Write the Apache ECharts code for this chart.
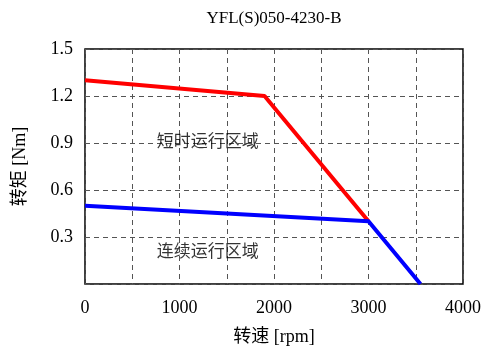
<!DOCTYPE html>
<html>
<head>
<meta charset="utf-8">
<script src="https://cdn.jsdelivr.net/npm/echarts@6/dist/echarts.min.js"></script>
<style>
  html, body { margin: 0; padding: 0; background: #fff; }
  #char { width: 500px; height: 353px; }
</style>
</head>
<body>
<div id="char"></div>
<script>
// 数据
const shortTerm = [[0, 1.3], [1900, 1.2], [3000, 0.4]]
const continuous = [[0, 0.5], [3000, 0.4], [3550, 0]]
const zoneLabels = [
  { name: '短时运行区域', x: 1300, y: 0.9 },
  { name: '连续运行区域', x: 1300, y: 0.2 }
]

const font = '"Liberation Serif", "Noto Sans CJK SC", serif'
let myChart = echarts.init(document.getElementById('char'))
let option = {
  animation: false,
  title: {
    text: 'YFL(S)050-4230-B',
    left: 269,
    top: 5,
    textAlign: 'center',
    textStyle: { fontFamily: font, fontSize: 17, fontWeight: 'normal', color: '#000' }
  },
  grid: {
    left: 85,
    right: 37,
    top: 49,
    bottom: 69,
    show: true,
    borderColor: '#000',
    borderWidth: 1.5
  },
  xAxis: {
    type: 'value',
    min: 0,
    max: 4000,
    interval: 500,
    name: '转速 [rpm]',
    nameLocation: 'middle',
    nameGap: 44,
    nameTextStyle: { fontFamily: font, fontSize: 18, color: '#000' },
    axisLine: { show: false },
    axisTick: { show: false },
    axisLabel: {
      fontFamily: font,
      fontSize: 18,
      color: '#000',
      margin: 15,
      formatter: (v) => (v % 1000 === 0 ? String(v) : '')
    },
    splitLine: { lineStyle: { type: [5, 4], color: '#555', width: 1 } }
  },
  yAxis: {
    type: 'value',
    min: 0,
    max: 1.5,
    interval: 0.3,
    name: '转矩 [Nm]',
    nameLocation: 'middle',
    nameGap: 56,
    nameTextStyle: { fontFamily: font, fontSize: 18, color: '#000' },
    axisLine: { show: false },
    axisTick: { show: false },
    axisLabel: {
      fontFamily: font,
      fontSize: 18,
      color: '#000',
      margin: 12,
      formatter: (v) => (v === 0 ? '' : v.toFixed(1))
    },
    splitLine: { lineStyle: { type: [5, 4], color: '#555', width: 1 } }
  },
  series: [
    {
      name: 'short',
      type: 'line',
      data: shortTerm,
      symbol: 'none',
      lineStyle: { color: '#ff0000', width: 4 },
      z: 3
    },
    {
      name: 'continuous',
      type: 'line',
      data: continuous,
      symbol: 'none',
      lineStyle: { color: '#0000ff', width: 4 },
      z: 4
    },
    {
      name: 'labels',
      type: 'scatter',
      data: zoneLabels.map((n) => ({ value: [n.x, n.y], name: n.name })),
      symbolSize: 0,
      label: {
        show: true,
        position: 'inside',
        formatter: (p) => p.name,
        fontFamily: font,
        fontSize: 17,
        color: '#000'
      }
    }
  ]
}
myChart.setOption(option)
</script>
</body>
</html>
